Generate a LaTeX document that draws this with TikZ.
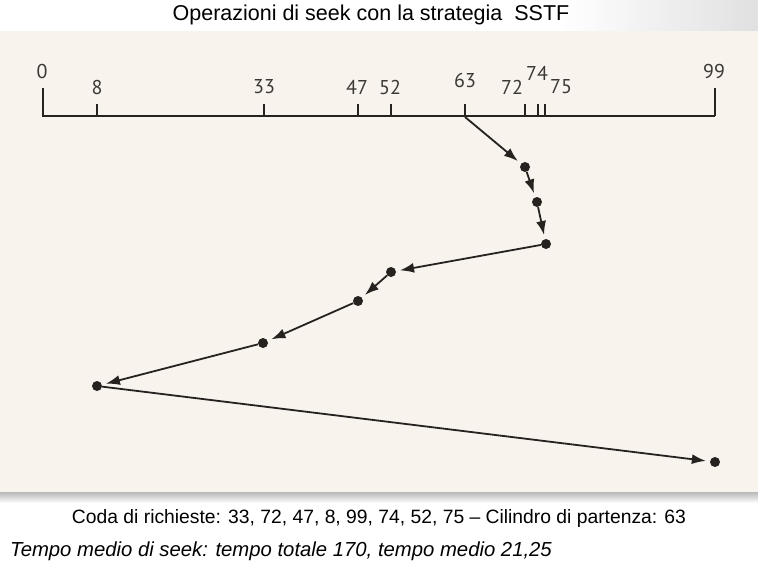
\documentclass[tikz,border=0pt]{standalone}
\usepackage{fontspec}
\setmainfont{Liberation Sans}
\newfontfamily\axisfont{PT Sans}
\usetikzlibrary{arrows.meta}
\definecolor{panel}{RGB}{248,243,236}
\definecolor{ink}{RGB}{38,34,32}
\definecolor{lbl}{RGB}{60,56,54}
\begin{document}
\begin{tikzpicture}[x=1pt,y=-1pt,
  dot/.style={circle,fill=ink,inner sep=0pt,minimum size=10pt},
  seek/.style={draw=ink,line width=1.8pt,shorten >=4pt,-{Latex[length=14pt,width=10pt]}},
  tick/.style={draw=ink,line width=1.4pt},
  lab/.style={font=\axisfont\fontsize{20}{20}\selectfont,text=lbl,inner sep=0pt},
  txt/.style={inner sep=0pt,text=black}]
\useasboundingbox (0,0) rectangle (758,571);
\fill[white] (0,0) rectangle (758,571);
\shade[left color=white,right color=black!12] (560,0) rectangle (758,31);
\shade[top color=black!28,bottom color=white] (0,492) rectangle (758,503);
\fill[panel] (0,31) rectangle (758,492);
% title
\node[txt,font=\fontsize{21.5}{21.5}\selectfont] (title) at (371,15) {Operazioni di seek con la strategia\ \ SSTF};
% axis
\draw[ink,line width=2pt] (42,116) -- (715,116);
\draw[tick] (43,88) -- (43,116);
\draw[tick] (97,104) -- (97,116);
\draw[tick] (264,104) -- (264,116);
\draw[tick] (358,104) -- (358,116);
\draw[tick] (391,104) -- (391,116);
\draw[tick] (465,104) -- (465,116);
\draw[tick] (525,104) -- (525,116);
\draw[tick] (538,104) -- (538,116);
\draw[tick] (545,104) -- (545,116);
\draw[tick] (715,88) -- (715,116);
\node[lab] (l0) at (42,71) {0};
\node[lab] (l8) at (97,87) {8};
\node[lab] (l33) at (264,87) {33};
\node[lab] (l47) at (357,87) {47};
\node[lab] (l52) at (390,87) {52};
\node[lab] (l63) at (465,80) {63};
\node[lab] (l72) at (512,87) {72};
\node[lab] (l74) at (537,73) {74};
\node[lab] (l75) at (561,87) {75};
\node[lab] (l99) at (714,71) {99};
% seek path
\coordinate (s63) at (465,117);
\node[dot] (d72) at (525,167) {};
\node[dot] (d74) at (537,202) {};
\node[dot] (d75) at (546,244) {};
\node[dot] (d52) at (391,272) {};
\node[dot] (d47) at (358,301) {};
\node[dot] (d33) at (263,343) {};
\node[dot] (d8) at (97,386) {};
\node[dot] (d99) at (715,462) {};
\draw[seek] (s63) -- (d72);
\draw[seek] (d72) -- (d74);
\draw[seek] (d74) -- (d75);
\draw[seek] (d75) -- (d52);
\draw[seek] (d52) -- (d47);
\draw[seek] (d47) -- (d33);
\draw[seek] (d33) -- (d8);
\draw[seek] (d8) -- (d99);
% captions
\node[txt,font=\fontsize{19.3}{19.3}\selectfont] (coda) at (379,519) {Coda di richieste: 33, 72, 47, 8, 99, 74, 52, 75 -- Cilindro di partenza: 63};
\node[txt,anchor=west,font=\fontsize{20.3}{20.3}\selectfont\itshape] (tempo) at (10,551) {Tempo medio di seek: tempo totale 170, tempo medio 21,25};
\end{tikzpicture}
\end{document}
